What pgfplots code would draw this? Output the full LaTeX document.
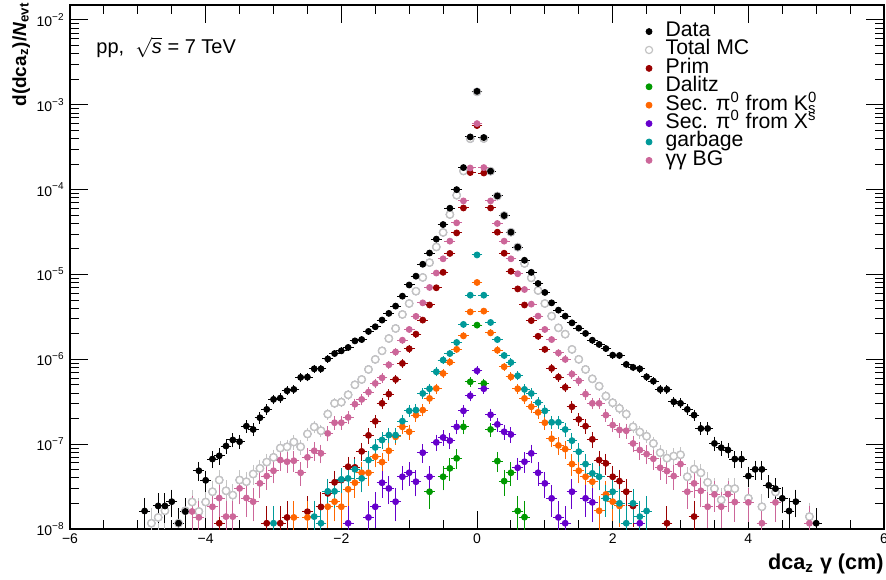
\documentclass[border=0pt]{standalone}
\usepackage{pgfplots}
\pgfplotsset{compat=1.18}
\usepackage{pgfplotstable}
\usepackage{fontspec}
\setmainfont{Liberation Sans}

\definecolor{cdata}{RGB}{0,0,0}
\definecolor{cmc}{RGB}{195,195,195}
\definecolor{cprim}{RGB}{153,0,0}
\definecolor{cdal}{RGB}{0,153,0}
\definecolor{csek}{RGB}{255,102,0}
\definecolor{csex}{RGB}{102,0,204}
\definecolor{cgarb}{RGB}{0,153,153}
\definecolor{cgg}{RGB}{204,102,153}

% dca_z distributions per event, bins of 0.1 cm
\pgfplotstableread{
x y
-4.9 1.63e-8
-4.7 1.87e-8
-4.6 1.87e-8
-4.5 2.10e-8
-4.4 1.17e-8
-4.3 1.61e-8
-4.1 4.86e-8
-4.0 3.75e-8
-3.9 6.68e-8
-3.8 7.29e-8
-3.7 9.51e-8
-3.6 1.12e-7
-3.5 1.07e-7
-3.4 1.63e-7
-3.3 1.49e-7
-3.2 2.05e-7
-3.1 2.57e-7
-3.0 3.37e-7
-2.9 3.49e-7
-2.8 4.26e-7
-2.7 4.42e-7
-2.6 6.12e-7
-2.5 6.17e-7
-2.4 7.73e-7
-2.3 7.73e-7
-2.2 1.01e-6
-2.1 1.17e-6
-2.0 1.26e-6
-1.9 1.38e-6
-1.8 1.65e-6
-1.7 1.71e-6
-1.6 2.13e-6
-1.5 2.42e-6
-1.4 2.90e-6
-1.3 3.48e-6
-1.2 4.24e-6
-1.1 5.55e-6
-1.0 7.52e-6
-0.9 9.55e-6
-0.8 1.32e-5
-0.7 1.79e-5
-0.6 2.61e-5
-0.5 3.88e-5
-0.4 6.04e-5
-0.3 1.00e-4
-0.2 1.82e-4
-0.1 4.18e-4
0.0 1.44e-3
0.1 4.11e-4
0.2 1.65e-4
0.3 8.43e-5
0.4 4.95e-5
0.5 3.15e-5
0.6 2.10e-5
0.7 1.47e-5
0.8 1.06e-5
0.9 7.83e-6
1.0 6.14e-6
1.1 4.63e-6
1.2 3.80e-6
1.3 3.23e-6
1.4 2.69e-6
1.5 2.33e-6
1.6 2.02e-6
1.7 1.68e-6
1.8 1.50e-6
1.9 1.34e-6
2.0 1.12e-6
2.1 1.11e-6
2.2 8.71e-7
2.3 8.04e-7
2.4 7.73e-7
2.5 6.22e-7
2.6 5.53e-7
2.7 4.42e-7
2.8 4.42e-7
2.9 3.16e-7
3.0 3.03e-7
3.1 2.57e-7
3.2 2.20e-7
3.3 1.53e-7
3.4 1.53e-7
3.5 1.02e-7
3.6 9.08e-8
3.7 8.53e-8
3.8 6.68e-8
3.9 6.68e-8
4.0 4.21e-8
4.1 5.05e-8
4.2 5.05e-8
4.3 3.27e-8
4.4 2.99e-8
4.5 2.30e-8
4.6 1.63e-8
4.7 2.10e-8
5.0 1.17e-8
}\tdata

\pgfplotstableread{
x y
-4.8 1.17e-8
-4.7 1.37e-8
-4.6 1.64e-8
-4.4 1.17e-8
-4.3 1.64e-8
-4.2 2.08e-8
-4.1 1.61e-8
-4.0 2.08e-8
-3.9 2.75e-8
-3.8 3.78e-8
-3.7 2.82e-8
-3.6 2.51e-8
-3.5 3.78e-8
-3.4 3.61e-8
-3.3 4.45e-8
-3.2 5.19e-8
-3.1 6.15e-8
-3.0 7.00e-8
-2.9 9.00e-8
-2.8 9.31e-8
-2.7 1.06e-7
-2.6 9.31e-8
-2.5 1.32e-7
-2.4 1.60e-7
-2.3 1.44e-7
-2.2 2.26e-7
-2.1 3.03e-7
-2.0 3.13e-7
-1.9 3.82e-7
-1.8 5.01e-7
-1.7 5.79e-7
-1.6 7.60e-7
-1.5 9.98e-7
-1.4 1.26e-6
-1.3 1.76e-6
-1.2 2.31e-6
-1.1 3.38e-6
-1.0 4.55e-6
-0.9 6.35e-6
-0.8 9.23e-6
-0.7 1.38e-5
-0.6 2.11e-5
-0.5 3.13e-5
-0.4 5.09e-5
-0.3 8.59e-5
-0.2 1.66e-4
-0.1 3.98e-4
0.0 1.42e-3
0.1 4.00e-4
0.2 1.65e-4
0.3 8.40e-5
0.4 4.95e-5
0.5 3.15e-5
0.6 2.10e-5
0.7 1.35e-5
0.8 9.12e-6
0.9 6.47e-6
1.0 4.55e-6
1.1 3.23e-6
1.2 2.35e-6
1.3 1.98e-6
1.4 1.31e-6
1.5 1.00e-6
1.6 7.60e-7
1.7 5.89e-7
1.8 4.83e-7
1.9 3.69e-7
2.0 3.08e-7
2.1 2.64e-7
2.2 2.26e-7
2.3 1.60e-7
2.4 1.39e-7
2.5 1.24e-7
2.6 1.02e-7
2.7 7.93e-8
2.8 6.85e-8
2.9 7.24e-8
3.0 7.50e-8
3.1 4.13e-8
3.2 5.09e-8
3.3 4.60e-8
3.4 3.55e-8
3.5 2.99e-8
3.6 2.20e-8
3.7 2.99e-8
3.8 2.99e-8
4.0 2.30e-8
4.2 1.83e-8
4.4 2.73e-8
4.9 1.40e-8
}\tmc

\pgfplotstableread{
x y
-3.8 1.17e-8
-3.1 1.17e-8
-2.9 1.17e-8
-2.8 1.37e-8
-2.5 1.60e-8
-2.3 1.82e-8
-2.2 2.63e-8
-2.1 3.55e-8
-2.0 3.78e-8
-1.9 5.42e-8
-1.8 5.33e-8
-1.7 8.22e-8
-1.6 1.27e-7
-1.5 1.86e-7
-1.4 3.03e-7
-1.3 3.89e-7
-1.2 5.79e-7
-1.1 8.95e-7
-1.0 1.33e-6
-0.9 1.98e-6
-0.8 2.90e-6
-0.7 4.37e-6
-0.6 6.97e-6
-0.5 1.06e-5
-0.4 1.77e-5
-0.3 3.09e-5
-0.2 6.08e-5
-0.1 1.59e-4
0.0 5.69e-4
0.1 1.57e-4
0.2 6.08e-5
0.3 3.15e-5
0.4 1.78e-5
0.5 1.09e-5
0.6 6.76e-6
0.7 4.37e-6
0.8 2.86e-6
0.9 1.87e-6
1.0 1.31e-6
1.1 7.82e-7
1.2 6.17e-7
1.3 4.67e-7
1.4 2.76e-7
1.5 1.96e-7
1.6 1.63e-7
1.7 1.14e-7
1.8 6.50e-8
1.9 5.94e-8
2.0 4.13e-8
2.1 3.67e-8
2.2 2.75e-8
2.3 1.87e-8
2.8 1.17e-8
3.2 1.40e-8
}\tprim

\pgfplotstableread{
x y
-0.7 2.75e-8
-0.5 4.13e-8
-0.4 5.19e-8
-0.3 6.81e-8
-0.2 1.60e-7
-0.1 5.43e-7
0.0 2.53e-6
0.1 5.20e-7
0.2 1.49e-7
0.3 6.32e-8
0.4 3.67e-8
0.5 4.60e-8
0.6 1.63e-8
0.7 1.38e-8
}\tdal

\pgfplotstableread{
x y
-2.7 1.37e-8
-2.5 1.37e-8
-2.2 1.83e-8
-2.1 2.10e-8
-2.0 1.83e-8
-1.9 2.94e-8
-1.8 3.51e-8
-1.7 4.60e-8
-1.6 4.60e-8
-1.5 7.11e-8
-1.4 6.15e-8
-1.3 8.36e-8
-1.2 1.22e-7
-1.1 1.60e-7
-1.0 1.40e-7
-0.9 2.20e-7
-0.8 2.52e-7
-0.7 3.46e-7
-0.6 4.54e-7
-0.5 6.82e-7
-0.4 9.27e-7
-0.3 1.31e-6
-0.2 1.89e-6
-0.1 3.62e-6
0.0 8.05e-6
0.1 3.70e-6
0.2 2.05e-6
0.3 1.28e-6
0.4 8.17e-7
0.5 6.22e-7
0.6 4.50e-7
0.7 3.46e-7
0.8 2.76e-7
0.9 2.37e-7
1.0 1.79e-7
1.1 1.16e-7
1.2 9.66e-8
1.3 8.75e-8
1.4 5.83e-8
1.5 4.86e-8
1.6 4.13e-8
1.7 3.61e-8
1.8 1.64e-8
1.9 2.56e-8
2.0 2.10e-8
2.1 1.87e-8
}\tsek

\pgfplotstableread{
x y
-1.9 1.17e-8
-1.6 1.37e-8
-1.5 1.83e-8
-1.4 3.51e-8
-1.3 3.01e-8
-1.2 2.10e-8
-1.1 4.13e-8
-1.0 4.60e-8
-0.9 3.61e-8
-0.8 7.93e-8
-0.7 4.13e-8
-0.6 1.05e-7
-0.5 1.20e-7
-0.4 1.10e-7
-0.3 1.60e-7
-0.2 2.47e-7
-0.1 3.72e-7
0.0 7.33e-7
0.1 4.50e-7
0.2 2.22e-7
0.3 1.71e-7
0.4 1.40e-7
0.5 1.30e-7
0.6 5.27e-8
0.7 6.21e-8
0.8 7.80e-8
0.9 4.60e-8
1.0 3.45e-8
1.1 2.30e-8
1.2 1.37e-8
1.3 1.17e-8
1.4 2.75e-8
1.6 2.30e-8
1.7 2.06e-8
2.4 1.17e-8
}\tsex

\pgfplotstableread{
x y
-3.0 1.17e-8
-2.4 1.40e-8
-2.3 1.17e-8
-2.2 2.78e-8
-2.1 2.78e-8
-2.0 3.85e-8
-1.9 3.95e-8
-1.8 5.05e-8
-1.7 3.95e-8
-1.6 6.50e-8
-1.5 9.16e-8
-1.4 1.12e-7
-1.3 1.28e-7
-1.2 1.28e-7
-1.1 1.87e-7
-1.0 2.47e-7
-0.9 2.52e-7
-0.8 3.96e-7
-0.7 4.50e-7
-0.6 7.13e-7
-0.5 9.79e-7
-0.4 1.17e-6
-0.3 1.58e-6
-0.2 2.58e-6
-0.1 5.70e-6
0.0 1.70e-5
0.1 5.70e-6
0.2 2.72e-6
0.3 1.71e-6
0.4 1.11e-6
0.5 9.18e-7
0.6 6.40e-7
0.7 4.42e-7
0.8 3.96e-7
0.9 3.10e-7
1.0 2.47e-7
1.1 1.81e-7
1.2 1.81e-7
1.3 1.49e-7
1.4 1.10e-7
1.5 8.15e-8
1.6 5.83e-8
1.7 4.53e-8
1.8 4.13e-8
1.9 2.30e-8
2.0 2.75e-8
2.1 2.01e-8
2.2 1.17e-8
2.3 2.01e-8
2.4 1.40e-8
2.5 1.63e-8
}\tgarb

\pgfplotstableread{
x y
-4.2 1.61e-8
-4.1 1.37e-8
-3.9 1.83e-8
-3.8 2.32e-8
-3.7 1.40e-8
-3.6 1.40e-8
-3.5 3.01e-8
-3.4 2.32e-8
-3.3 2.10e-8
-3.2 3.45e-8
-3.1 4.21e-8
-3.0 4.86e-8
-2.9 6.50e-8
-2.8 6.21e-8
-2.7 6.38e-8
-2.6 4.60e-8
-2.5 7.00e-8
-2.4 8.36e-8
-2.3 7.80e-8
-2.2 1.34e-7
-2.1 1.79e-7
-2.0 1.79e-7
-1.9 2.07e-7
-1.8 2.96e-7
-1.7 3.37e-7
-1.6 4.11e-7
-1.5 5.20e-7
-1.4 6.05e-7
-1.3 8.61e-7
-1.2 1.22e-6
-1.1 1.68e-6
-1.0 2.25e-6
-0.9 3.21e-6
-0.8 4.63e-6
-0.7 7.03e-6
-0.6 1.04e-5
-0.5 1.53e-5
-0.4 2.47e-5
-0.3 4.06e-5
-0.2 7.36e-5
-0.1 1.80e-4
0.0 6.00e-4
0.1 1.82e-4
0.2 7.36e-5
0.3 3.99e-5
0.4 2.47e-5
0.5 1.53e-5
0.6 1.02e-5
0.7 6.65e-6
0.8 4.47e-6
0.9 3.23e-6
1.0 2.25e-6
1.1 1.71e-6
1.2 1.19e-6
1.3 9.98e-7
1.4 6.70e-7
1.5 5.58e-7
1.6 3.89e-7
1.7 3.03e-7
1.8 3.03e-7
1.9 2.20e-7
2.0 1.68e-7
2.1 1.47e-7
2.2 1.44e-7
2.3 1.02e-7
2.4 8.53e-8
2.5 7.64e-8
2.6 6.73e-8
2.7 5.27e-8
2.8 4.82e-8
2.9 4.21e-8
3.0 5.83e-8
3.1 2.75e-8
3.2 3.45e-8
3.3 2.82e-8
3.4 1.83e-8
3.5 2.56e-8
3.6 1.83e-8
3.7 2.58e-8
3.8 2.08e-8
4.0 2.06e-8
4.2 1.17e-8
4.4 2.06e-8
4.9 1.17e-8
}\tgg

\pgfplotsset{
  dcapts/.style={
    only marks, mark=*, mark size=1.5pt, color=#1,
    mark options={solid, fill=#1, draw=#1, line width=0.4pt},
    error bars/x dir=both, error bars/x fixed=0.05,
    error bars/y dir=both, error bars/y explicit,
    error bars/error bar style={line width=0.5pt, #1},
    error bars/error mark options={mark size=1pt, line width=0.5pt, #1},
  },
  % open markers: bars first, then white-filled rings on top
  dcabars/.style={
    only marks, mark=none, color=#1,
    error bars/y dir=both, error bars/y explicit,
    error bars/error bar style={line width=0.5pt, #1},
    error bars/error mark options={mark size=1pt, line width=0.5pt, #1},
  },
  dcaring/.style={
    only marks, mark=*, mark size=1.8pt, color=#1,
    mark options={solid, draw=#1, fill=white, line width=0.6pt},
  },
}

\begin{document}
\begin{tikzpicture}
\useasboundingbox (0,0) rectangle (443pt,289.5pt);
\begin{axis}[
  at={(35pt,25pt)}, anchor=south west,
  scale only axis, width=407pt, height=262pt,
  xmin=-6, xmax=6, ymin=1e-8, ymax=1.5e-2,
  ymode=log,
  axis line style={line width=0.6pt},
  tick align=inside, tick pos=both,
  xticklabel pos=lower, yticklabel pos=left,
  major tick length=9pt, minor tick length=4.5pt,
  tick style={black, line width=0.5pt},
  xtick={-6,-4,-2,0,2,4,6},
  xticklabels={−6,−4,−2,0,2,4,6},
  minor x tick num=3,
  ytick={1e-8,1e-7,1e-6,1e-5,1e-4,1e-3,1e-2},
  yticklabels={10\textsuperscript{−8},10\textsuperscript{−7},10\textsuperscript{−6},10\textsuperscript{−5},10\textsuperscript{−4},10\textsuperscript{−3},10\textsuperscript{−2}},
  minor ytick={2e-8,3e-8,4e-8,5e-8,6e-8,7e-8,8e-8,9e-8,
               2e-7,3e-7,4e-7,5e-7,6e-7,7e-7,8e-7,9e-7,
               2e-6,3e-6,4e-6,5e-6,6e-6,7e-6,8e-6,9e-6,
               2e-5,3e-5,4e-5,5e-5,6e-5,7e-5,8e-5,9e-5,
               2e-4,3e-4,4e-4,5e-4,6e-4,7e-4,8e-4,9e-4,
               2e-3,3e-3,4e-3,5e-3,6e-3,7e-3,8e-3,9e-3},
  xticklabel style={font=\fontsize{7}{8}\selectfont, inner sep=0pt, yshift=-2pt},
  yticklabel style={font=\fontsize{7}{8}\selectfont, inner sep=0pt, xshift=-2.5pt},
  legend cell align=left,
  legend image code/.code={\draw[#1] plot coordinates {(0pt,0pt)};},
  legend style={draw=none, fill=none, at={(0.7064,0.9676)}, anchor=north west,
    inner sep=0pt, row sep=0pt, column sep=6.5pt,
    font=\fontsize{10.6}{12}\selectfont,
    nodes={inner sep=0pt, text height=7.1pt, text depth=2.1pt}},
]
% drawing order: Total MC underneath, Data on top
\addplot+[dcabars=cmc, forget plot] table[x=x, y=y, y error expr={0.45e-4*sqrt(\thisrow{y})}] {\tmc};
\addplot+[dcaring=cmc, forget plot] table[x=x, y=y] {\tmc};
\addplot+[dcapts=cprim, forget plot] table[x=x, y=y, y error expr={0.55e-4*sqrt(\thisrow{y})}] {\tprim};
\addplot+[dcapts=cdal, forget plot] table[x=x, y=y, y error expr={0.55e-4*sqrt(\thisrow{y})}] {\tdal};
\addplot+[dcapts=csek, forget plot] table[x=x, y=y, y error expr={0.55e-4*sqrt(\thisrow{y})}] {\tsek};
\addplot+[dcapts=csex, forget plot] table[x=x, y=y, y error expr={0.55e-4*sqrt(\thisrow{y})}] {\tsex};
\addplot+[dcapts=cgarb, forget plot] table[x=x, y=y, y error expr={0.55e-4*sqrt(\thisrow{y})}] {\tgarb};
\addplot+[dcapts=cgg, forget plot] table[x=x, y=y, y error expr={0.55e-4*sqrt(\thisrow{y})}] {\tgg};
\addplot+[dcapts=cdata, forget plot] table[x=x, y=y, y error expr={0.45e-4*sqrt(\thisrow{y})}] {\tdata};

% legend
\addlegendimage{only marks, mark=*, mark size=1.5pt, cdata}
\addlegendentry{Data}
\addlegendimage{only marks, mark=o, mark size=1.8pt, line width=0.6pt, cmc}
\addlegendentry{Total MC}
\addlegendimage{only marks, mark=*, mark size=1.5pt, cprim}
\addlegendentry{Prim}
\addlegendimage{only marks, mark=*, mark size=1.5pt, cdal}
\addlegendentry{Dalitz}
\addlegendimage{only marks, mark=*, mark size=1.5pt, csek}
\addlegendentry{Sec. π\textsuperscript{0} from K\rlap{\textsuperscript{0}}\textsubscript{s}}
\addlegendimage{only marks, mark=*, mark size=1.5pt, csex}
\addlegendentry{Sec. π\textsuperscript{0} from X\textsuperscript{s}}
\addlegendimage{only marks, mark=*, mark size=1.5pt, cgarb}
\addlegendentry{garbage}
\addlegendimage{only marks, mark=*, mark size=1.5pt, cgg}
\addlegendentry{γγ BG}
\end{axis}
% annotations and axis titles
\node[anchor=base west, inner sep=0pt, font=\fontsize{10}{12}\selectfont] at (48pt,262.5pt) {pp,\ \ $\sqrt{\textit{s}}$ = 7 TeV};
\node[rotate=90, anchor=north east, inner sep=0pt, font=\bfseries\fontsize{9.5}{11}\selectfont] at (6pt,288.5pt) {d(dca\textsubscript{z})/\textit{N}\textsubscript{evt}};
\node[anchor=base east, inner sep=0pt, font=\bfseries\fontsize{10.8}{12}\selectfont] at (442pt,5pt) {dca\textsubscript{z} γ (cm)};
\end{tikzpicture}
\end{document}
